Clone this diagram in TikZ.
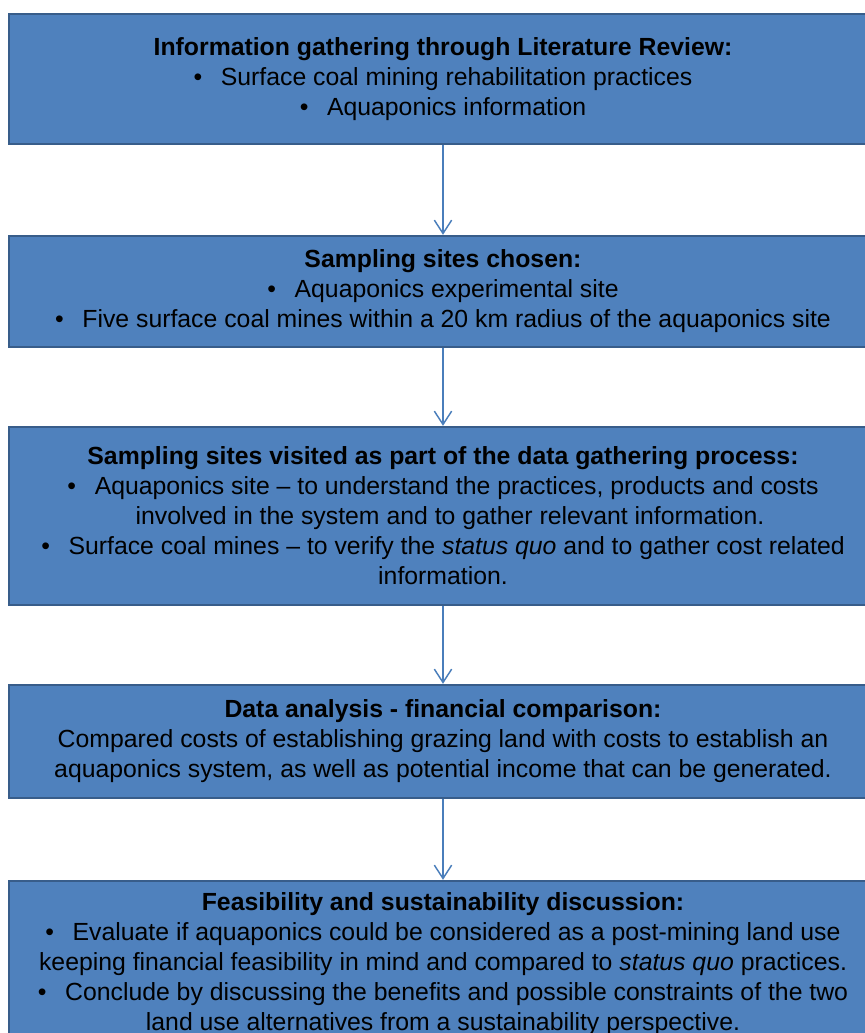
\documentclass[tikz,border=0pt]{standalone}
\usepackage{fontspec}
\setmainfont{Liberation Sans}
\usetikzlibrary{arrows.meta}
\definecolor{boxfill}{HTML}{4F81BD}
\definecolor{boxline}{HTML}{385D8A}
\definecolor{arrowcol}{HTML}{4A7EBB}
\newcommand{\bul}{\textbullet\hspace{0.75em}}
\tikzset{
  stepbox/.style={draw=boxline, line width=1.8pt, fill=boxfill, minimum width=868*0.75pt, inner sep=0pt, align=center,
    font=\fontsize{18.6pt}{22.5pt}\selectfont, text=black},
  flow/.style={draw=arrowcol, line width=1.1pt, -{Straight Barb[length=10pt,width=13pt,line width=1.1pt]}}
}
\begin{document}
\begin{tikzpicture}[x=0.75pt,y=-0.75pt]
\useasboundingbox (0,0) rectangle (865,1033);
\clip (0,0) rectangle (865,1033);
\node[stepbox, minimum height=130*0.75pt] (b1) at (443,79) {\textbf{Information gathering through Literature Review:}\\
\bul Surface coal mining rehabilitation practices\\
\bul Aquaponics information};
\node[stepbox, minimum height=111*0.75pt] (b2) at (443,291.5) {\textbf{Sampling sites chosen:}\\
\bul Aquaponics experimental site\\
\bul Five surface coal mines within a 20 km radius of the aquaponics site};
\node[stepbox, minimum height=178*0.75pt] (b3) at (443,516) {\textbf{Sampling sites visited as part of the data gathering process:}\\
\bul Aquaponics site -- to understand the practices, products and costs\\
\hspace*{10.5pt}involved in the system and to gather relevant information.\\
\bul Surface coal mines -- to verify the \textit{status quo} and to gather cost related\\
information.};
\node[stepbox, minimum height=113*0.75pt] (b4) at (443,741.5) {\textbf{Data analysis - financial comparison:}\\
Compared costs of establishing grazing land with costs to establish an\\
aquaponics system, as well as potential income that can be generated.};
\node[stepbox, minimum height=166*0.75pt] (b5) at (443,964) {\textbf{Feasibility and sustainability discussion:}\\
\bul Evaluate if aquaponics could be considered as a post-mining land use\\
keeping financial feasibility in mind and compared to \textit{status quo} practices.\\
\bul Conclude by discussing the benefits and possible constraints of the two\\
land use alternatives from a sustainability perspective.};
\draw[flow] (b1) -- (b2);
\draw[flow] (b2) -- (b3);
\draw[flow] (b3) -- (b4);
\draw[flow] (b4) -- (b5);
\end{tikzpicture}
\end{document}
